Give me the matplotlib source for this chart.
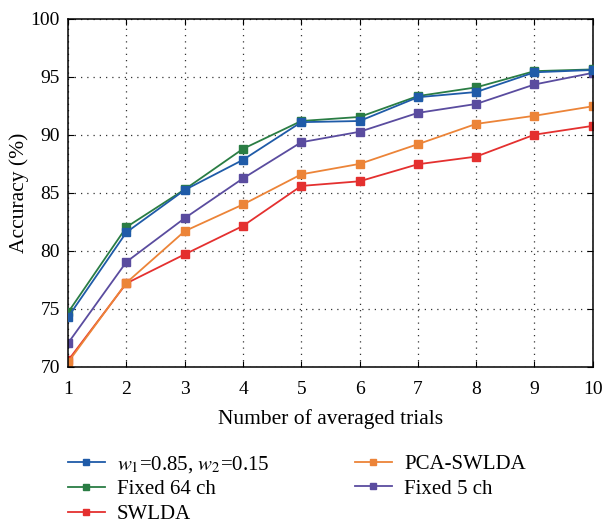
import matplotlib
matplotlib.use("Agg")
import matplotlib.pyplot as plt

trials = [1, 2, 3, 4, 5, 6, 7, 8, 9, 10]
weighted = [74.3, 81.6, 85.25, 87.85, 91.1, 91.2, 93.25, 93.7, 95.4, 95.6]
fixed64 = [74.7, 82.05, 85.3, 88.8, 91.2, 91.55, 93.35, 94.1, 95.5, 95.65]
swlda = [70.55, 77.2, 79.7, 82.15, 85.6, 86.0, 87.47, 88.13, 90.02, 90.78]
pca_swlda = [70.4, 77.25, 81.7, 84.0, 86.6, 87.5, 89.2, 90.95, 91.65, 92.47]
fixed5 = [72.05, 79.05, 82.82, 86.25, 89.37, 90.27, 91.9, 92.67, 94.35, 95.35]

labels = [r"$w_1$=0.85, $w_2$=0.15", "Fixed 64 ch", "SWLDA", "PCA-SWLDA", "Fixed 5 ch"]
colors = ["#1f5ba8", "#2a7d44", "#e4302f", "#ec8438", "#5a4c9f"]
series = [weighted, fixed64, swlda, pca_swlda, fixed5]
zorders = [4, 3, 2, 2, 2]

plt.rcParams['font.family'] = ['Liberation Serif', 'DejaVu Serif']
plt.rcParams['mathtext.fontset'] = 'stix'

fig = plt.figure(figsize=(6.03, 5.27), dpi=100)
ax = fig.add_axes([0.113, 0.304, 0.870, 0.660])

for s, lab, c, z in zip(series, labels, colors, zorders):
    ax.plot(trials, s, color=c, lw=1.3, marker='s', markersize=6, label=lab, zorder=z)

ax.set_xlim(1, 10)
ax.set_ylim(70, 100)
ax.set_xticks(trials)
ax.set_yticks([70, 75, 80, 85, 90, 95, 100])
ax.grid(True, color='#333333', linestyle=(0, (1, 4)), linewidth=0.9)
ax.tick_params(direction='in', top=True, right=True, labelsize=14, length=4)
ax.tick_params(axis='x', pad=10)
ax.tick_params(axis='y', pad=6)
for sp in ax.spines.values():
    sp.set_linewidth(1.1)
ax.set_xlabel("Number of averaged trials", fontsize=15.5, labelpad=8)
ax.set_ylabel("Accuracy (%)", fontsize=15.5, labelpad=1)

ax.legend(loc='upper left', bbox_to_anchor=(0.113, 0.139), bbox_transform=fig.transFigure,
          ncol=2, frameon=False, borderaxespad=0, borderpad=0,
          fontsize=15, handlelength=1.75, handletextpad=0.6, columnspacing=4.1,
          labelspacing=0.24, markerscale=0.7)

fig.savefig("out.png", dpi=100)
